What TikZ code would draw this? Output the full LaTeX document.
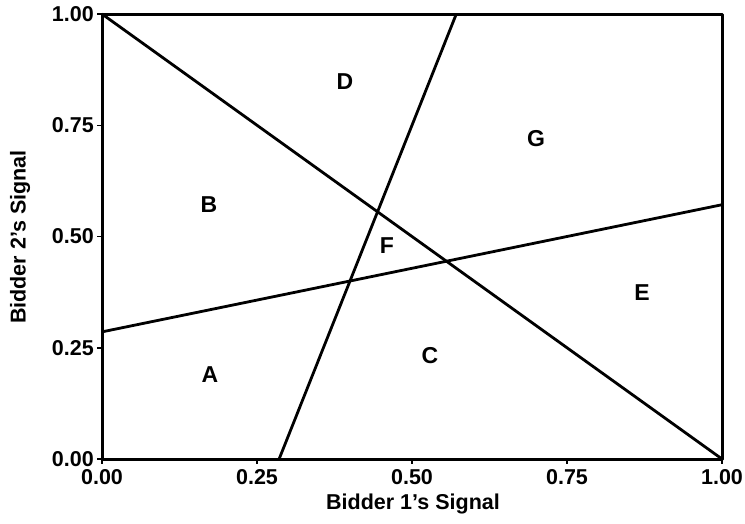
\documentclass[tikz,border=0pt]{standalone}
\usepackage{fontspec}
\setmainfont{Liberation Sans}
\begin{document}
\begin{tikzpicture}[x=1pt,y=-1pt,
  every node/.style={font=\fontsize{21.5}{21.5}\selectfont\bfseries, inner sep=0pt},
  frame/.style={line width=3pt, line join=round},
  curve/.style={line width=2.8pt},
  tick/.style={line width=1.5pt},
  region/.style={font=\fontsize{23}{23}\selectfont\bfseries}]
\useasboundingbox (0,0) rectangle (745,523);
\begin{scope}[shift={(102,459)}, x=620pt, y=445pt]
  \coordinate (o) at (0,0);
  \coordinate (tr) at (1,1);
  \coordinate (d1) at (0,1);
  \coordinate (d2) at (1,0);
  \coordinate (s1) at (2/7,0);
  \coordinate (s2) at (4/7,1);
  \coordinate (h1) at (0,2/7);
  \coordinate (h2) at (1,4/7);
  \draw[curve] (d1) -- (d2);
  \draw[curve] (s1) -- (s2);
  \draw[curve] (h1) -- (h2);
  \draw[frame] (o) rectangle (tr);
  \foreach \v/\t [count=\i] in {0/0.00,0.25/0.25,0.5/0.50,0.75/0.75,1/1.00}{
    \coordinate (xt\i) at (\v,0);
    \coordinate (yt\i) at (0,\v);
    \draw[tick] (xt\i) -- ++(0,-5pt);
    \draw[tick] (yt\i) -- ++(-5pt,0);
    \node[anchor=north] (xl\i) at ([yshift=-10pt]xt\i) {\t};
    \node[anchor=east] (yl\i) at ([xshift=-8pt]yt\i) {\t};
  }
\end{scope}
\node (xtitle) at (413,504) {Bidder 1's Signal};
\node[rotate=90] (ytitle) at (20,237) {Bidder 2's Signal};
\node[region] (D) at (345,82) {D};
\node[region] (G) at (536,139) {G};
\node[region] (B) at (209,205) {B};
\node[region] (F) at (387,246) {F};
\node[region] (E) at (642,293) {E};
\node[region] (C) at (430,356) {C};
\node[region] (A) at (210,375) {A};
\end{tikzpicture}
\end{document}
